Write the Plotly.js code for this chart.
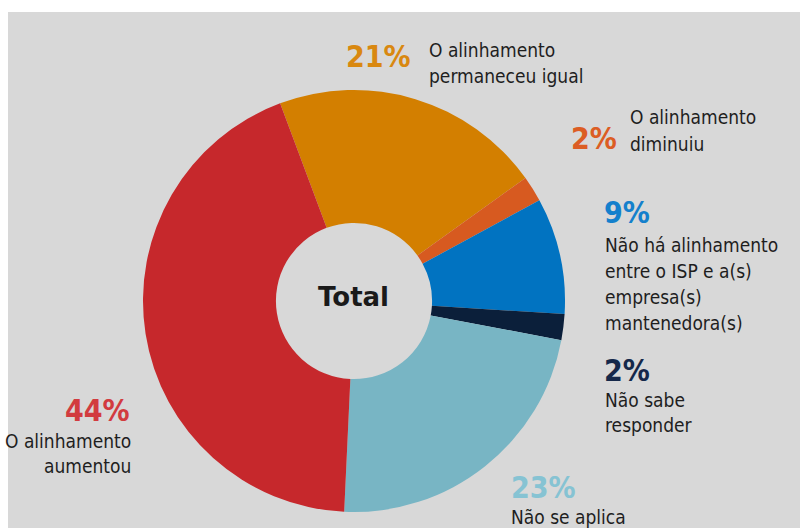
<!DOCTYPE html>
<html>
<head>
<meta charset="utf-8">
<script src="https://cdn.plot.ly/plotly-3.0.1.min.js"></script>
<style>html,body{margin:0;padding:0;background:#fff;}#chart{width:800px;height:528px;}</style>
</head>
<body>
<div id="chart"></div>
<script>
// Data (clockwise order starting from the red/orange boundary)
const categories = [
  'O alinhamento permaneceu igual',
  'O alinhamento diminuiu',
  'Não há alinhamento entre o ISP e a(s) empresa(s) mantenedora(s)',
  'Não sabe responder',
  'Não se aplica',
  'O alinhamento aumentou'
];
const values = [21, 2, 9, 2, 23, 44];
const sliceColors = ['#d37f00', '#d75a20', '#0173c1', '#0b1f3a', '#78b5c4', '#c6282c'];
const pctColors = ['#d98810', '#dc5d24', '#1480cc', '#15284a', '#86c3d3', '#d23b3f'];
const pctLabels = values.map(v => v + '%');
const labelLines = [
  ['O alinhamento', 'permaneceu igual'],
  ['O alinhamento', 'diminuiu'],
  ['Não há alinhamento', 'entre o ISP e a(s)', 'empresa(s)', 'mantenedora(s)'],
  ['Não sabe', 'responder'],
  ['Não se aplica'],
  ['O alinhamento', 'aumentou']
];

const W = 800, H = 528;
const px = x => x / W;
const py = y => 1 - y / H;

// label placement (pixels): pct anchor & text anchor
const place = [
  {pct:{x:413, y:57, xa:'right'}, txt:{x:427, y:50, xa:'left', dy:26}},
  {pct:{x:619, y:138, xa:'right'}, txt:{x:628, y:117, xa:'left', dy:27}},
  {pct:{x:602, y:213, xa:'left'}, txt:{x:603, y:245, xa:'left', dy:26}},
  {pct:{x:602, y:370, xa:'left'}, txt:{x:603, y:400, xa:'left', dy:25}},
  {pct:{x:509, y:487, xa:'left'}, txt:{x:509, y:517, xa:'left', dy:26}},
  {pct:{x:132, y:410, xa:'right'}, txt:{x:133, y:441, xa:'right', dy:25}}
];

const bodyFont = 'DejaVu Sans Condensed, Liberation Sans Narrow, sans-serif';
const annotations = [];
place.forEach((p, i) => {
  annotations.push({
    xref:'paper', yref:'paper', x:px(p.pct.x), y:py(p.pct.y),
    xanchor:p.pct.xa, yanchor:'middle', showarrow:false, text:'<b>'+pctLabels[i]+'</b>',
    font:{family:bodyFont, size:30, color:pctColors[i]}
  });
  labelLines[i].forEach((line, j) => {
    annotations.push({
      xref:'paper', yref:'paper', x:px(p.txt.x), y:py(p.txt.y + j*p.txt.dy),
      xanchor:p.txt.xa, yanchor:'middle', showarrow:false, text:line,
      font:{family:bodyFont, size:19, color:'#1e1e1e'}
    });
  });
});
annotations.push({
  xref:'paper', yref:'paper', x:px(353), y:py(297), xanchor:'center', yanchor:'middle',
  showarrow:false, text:'<b>Total</b>', font:{family:'DejaVu Sans, sans-serif', size:26, color:'#1a1a1a'}
});

const cx = 354, cy = 301, R = 211;
const trace = {
  type:'pie', values:values, labels:categories, sort:false, direction:'clockwise', rotation:-20.5,
  hole:0.37, textinfo:'none', hoverinfo:'skip', showlegend:false,
  marker:{colors:sliceColors, line:{width:0}},
  domain:{x:[px(cx-R), px(cx+R)], y:[py(cy+R), py(cy-R)]}
};

const layout = {
  width:W, height:H, margin:{l:0, r:0, t:0, b:0},
  paper_bgcolor:'#d8d8d8', showlegend:false,
  annotations:annotations,
  shapes:[
    {type:'rect', xref:'paper', yref:'paper', x0:0, x1:1, y0:py(12), y1:1, fillcolor:'#ffffff', line:{width:0}, layer:'above'},
    {type:'rect', xref:'paper', yref:'paper', x0:0, x1:px(8), y0:0, y1:1, fillcolor:'#ffffff', line:{width:0}, layer:'above'}
  ]
};

Plotly.newPlot('chart', [trace], layout, {displayModeBar:false, staticPlot:true});
</script>
</body>
</html>
